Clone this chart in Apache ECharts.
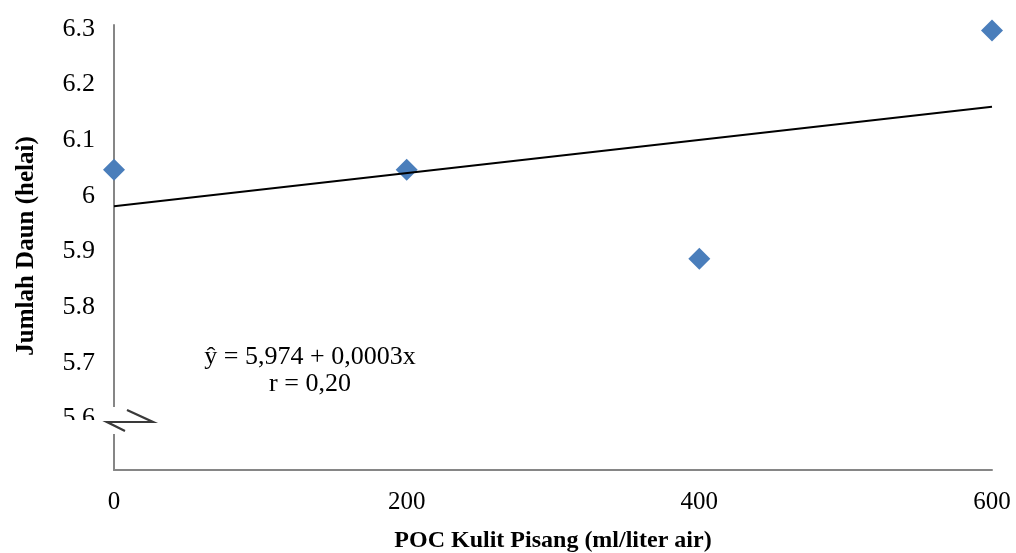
<!DOCTYPE html>
<html>
<head>
<meta charset="utf-8">
<script src="https://cdn.jsdelivr.net/npm/echarts@6/dist/echarts.min.js"></script>
<style>
html,body{margin:0;padding:0;background:#fff;}
#chart{width:1016px;height:553px;}
</style>
</head>
<body>
<div id="chart"></div>
<script>
var doses = [0, 200, 400, 600];
var leaves = [6.04, 6.04, 5.88, 6.29];
var trendX = [0, 600];
var trendY = [5.974, 6.153];
var xTicks = [0, 200, 400, 600];
var yTicks = [5.6, 5.7, 5.8, 5.9, 6, 6.1, 6.2, 6.3];
var equationText = 'ŷ = 5,974 + 0,0003x';
var rText = 'r = 0,20';
var xTitle = 'POC Kulit Pisang (ml/liter air)';
var yTitle = 'Jumlah Daun (helai)';

var font = '"Liberation Serif", "Times New Roman", serif';
var chart = echarts.init(document.getElementById('chart'));
chart.setOption({
  animation: false,
  grid: {left: 114, right: 24, top: 25, bottom: 83},
  xAxis: {
    type: 'value', min: 0, max: 600, interval: 200,
    axisLine: {show: true, lineStyle: {color: '#868686', width: 2}},
    axisTick: {show: false},
    splitLine: {show: false},
    axisLabel: {
      margin: 20, color: '#000', fontFamily: font, fontSize: 25,
      formatter: function (v) { return xTicks.indexOf(v) >= 0 ? String(v) : ''; }
    }
  },
  yAxis: {
    type: 'value', min: 5.5, max: 6.3, interval: 0.1,
    axisLine: {show: true, lineStyle: {color: '#868686', width: 2}},
    axisTick: {show: false},
    splitLine: {show: false},
    axisLabel: {
      margin: 19, color: '#000', fontFamily: font, fontSize: 26,
      formatter: function (v) {
        var r = Math.round(v * 10) / 10;
        return yTicks.indexOf(r) >= 0 ? '{t|' + String(r) + '}' : '';
      },
      rich: {
        t: {fontFamily: font, fontSize: 26, color: '#000', padding: [8, 0, 0, 0]}
      }
    }
  },
  series: [
    {
      type: 'line',
      data: trendX.map(function (x, i) { return [x, trendY[i]]; }),
      symbol: 'none',
      lineStyle: {color: '#000', width: 2},
      z: 3
    },
    {
      type: 'scatter',
      data: doses.map(function (x, i) { return [x, leaves[i]]; }),
      symbol: 'diamond',
      symbolSize: [22, 22],
      itemStyle: {color: '#4A7EBB', opacity: 1},
      z: 2
    }
  ],
  graphic: [
    {type: 'rect', shape: {x: 50, y: 420, width: 60, height: 14}, style: {fill: '#fff'}, z: 100},
    {type: 'rect', shape: {x: 101, y: 407, width: 58, height: 27}, style: {fill: '#fff'}, z: 100},
    {type: 'polyline', shape: {points: [[127, 410], [153, 422], [107, 422], [125, 431]]},
      style: {stroke: '#3a3a3a', lineWidth: 2.2, fill: null}, z: 101},
    {type: 'text', style: {text: equationText, x: 310, y: 357, textAlign: 'center', textVerticalAlign: 'middle',
      font: '26px ' + font, fill: '#000'}, z: 50},
    {type: 'text', style: {text: rText, x: 310, y: 384, textAlign: 'center', textVerticalAlign: 'middle',
      font: '26px ' + font, fill: '#000'}, z: 50},
    {type: 'text', style: {text: xTitle, x: 553, y: 541, textAlign: 'center', textVerticalAlign: 'middle',
      font: 'bold 24px ' + font, fill: '#000'}, z: 50},
    {type: 'text', rotation: Math.PI / 2, x: 27, y: 246,
      style: {text: yTitle, x: 0, y: 0, textAlign: 'center', textVerticalAlign: 'middle',
      font: 'bold 25px ' + font, fill: '#000'}, z: 50}
  ]
});
</script>
</body>
</html>
